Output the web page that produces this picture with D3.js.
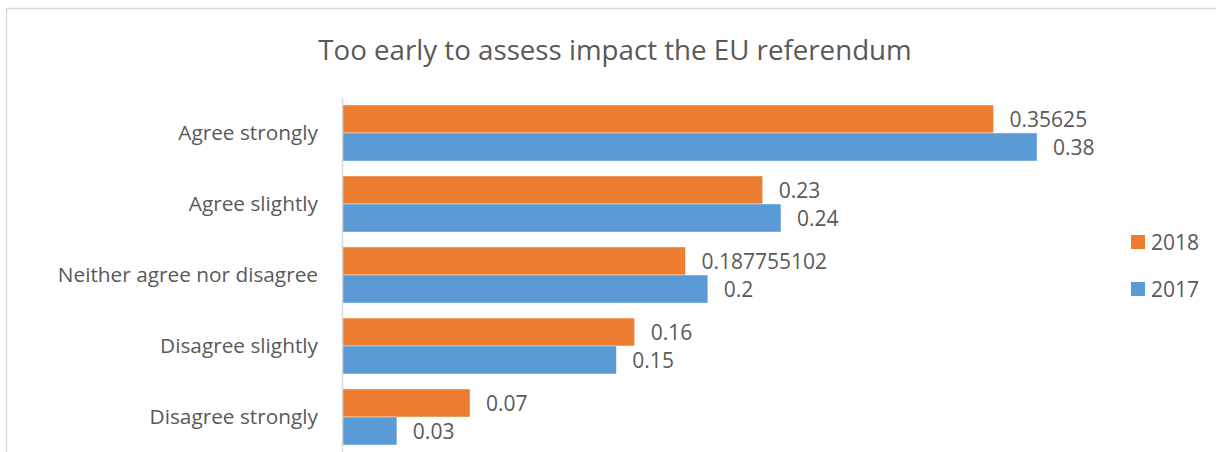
<!DOCTYPE html>
<html><head><meta charset="utf-8">
<script src="https://cdn.jsdelivr.net/npm/d3@7"></script>
<style>body{margin:0;background:#fff}svg{display:block}text{font-family:"Open Sans",sans-serif;fill:#595959}</style>
</head><body><svg id="c" width="1216" height="452"></svg>
<script>
const categories = ["Agree strongly","Agree slightly","Neither agree nor disagree","Disagree slightly","Disagree strongly"];
const values2018 = [0.35625, 0.23, 0.187755102, 0.16, 0.07];
const values2017 = [0.38, 0.24, 0.2, 0.15, 0.03];
const seriesNames = ["2018","2017"];
const labels2018 = ["0.35625","0.23","0.187755102","0.16","0.07"];
const labels2017 = ["0.38","0.24","0.2","0.15","0.03"];
const colors = {"2018":"#ED7D31","2017":"#5B9BD5"};

const svg = d3.select("#c");
svg.append("rect").attr("x",6.5).attr("y",8.5).attr("width",1230).attr("height",460)
  .attr("fill","#fff").attr("stroke","#D9D9D9").attr("stroke-width",1.5);

svg.append("text").attr("x",615).attr("y",49).attr("text-anchor","middle")
  .attr("dominant-baseline","central").style("font-size","27.7px").text("Too early to assess impact the EU referendum");

const x = d3.scaleLinear().domain([0,0.4]).range([342, 342+0.4*1829]);
const y = d3.scaleBand().domain(categories).range([97.5, 452.5]).paddingInner(15/71).paddingOuter(7.5/71);
const y1 = d3.scaleBand().domain(seriesNames).range([0, y.bandwidth()]);

const data = categories.map((c,i)=>({c, s:[{k:"2018",v:values2018[i],l:labels2018[i]},{k:"2017",v:values2017[i],l:labels2017[i]}]}));
const g = svg.append("g").selectAll("g").data(data).join("g").attr("transform",d=>`translate(0,${y(d.c)})`);
g.selectAll("rect").data(d=>d.s).join("rect")
  .attr("x",x(0)).attr("y",d=>y1(d.k)).attr("width",d=>x(d.v)-x(0)).attr("height",y1.bandwidth())
  .attr("fill",d=>colors[d.k]).attr("stroke","#fff").attr("stroke-opacity",0.5).attr("stroke-width",0.8);
g.selectAll("text").data(d=>d.s).join("text")
  .attr("x",d=>x(d.v)+16).attr("y",d=>y1(d.k)+y1.bandwidth()/2).attr("dominant-baseline","central")
  .style("font-size","21px").text(d=>d.l);

const yAxis = svg.append("g").attr("transform","translate(342,0)").call(d3.axisLeft(y).tickSize(0).tickPadding(24));
yAxis.select(".domain").attr("stroke","#D9D9D9").attr("stroke-width",1.5);
yAxis.selectAll("text").style("font-size","20.8px").attr("fill","#595959").style("font-family","'Open Sans',sans-serif");

const leg = svg.append("g").selectAll("g").data(seriesNames).join("g").attr("transform",(d,i)=>`translate(1131,${242+i*47})`);
leg.append("rect").attr("x",0).attr("y",-7).attr("width",14).attr("height",14).attr("fill",d=>colors[d]);
leg.append("text").attr("x",20).attr("y",0).attr("dominant-baseline","central").style("font-size","21px").text(d=>d);
</script></body></html>
